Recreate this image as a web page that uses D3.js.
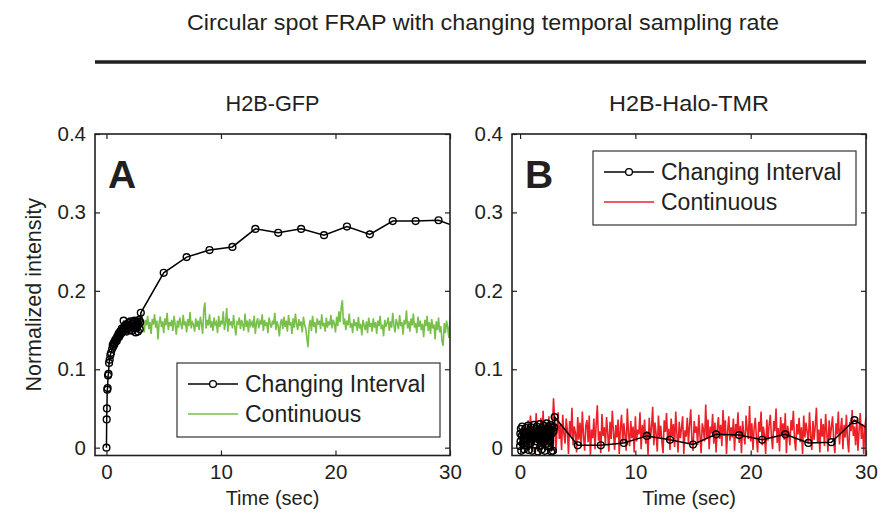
<!DOCTYPE html>
<html>
<head>
<meta charset="utf-8">
<script src="https://cdnjs.cloudflare.com/ajax/libs/d3/7.8.5/d3.min.js"></script>
<style>
  body { margin: 0; background: #fff; }
  text { font-family: "Liberation Sans", Arial, sans-serif; fill: #231f20; }
</style>
</head>
<body>
<div id="chart"></div>
<script>
// sampling times of the "changing interval" protocol (sec)
var intervalTimes = [0, 0.02, 0.04, 0.07, 0.1, 0.14, 0.18, 0.23, 0.28, 0.34, 0.4,
    0.5, 0.55, 0.6, 0.65, 0.7, 0.75, 0.8, 0.85, 0.9, 0.95,
    1.0, 1.05, 1.1, 1.15, 1.2, 1.25, 1.3, 1.35, 1.4, 1.45,
    1.5, 1.55, 1.6, 1.65, 1.7, 1.75, 1.8, 1.85, 1.9, 1.95,
    2.0, 2.05, 2.1, 2.15, 2.2, 2.25, 2.3, 2.35, 2.4, 2.45,
    2.5, 2.55, 2.6, 2.65, 2.7, 2.75, 2.8, 2.85, 2.9, 2.95, 3.0,
    5, 7, 9, 11, 13, 15, 17, 19, 21, 23, 25, 27, 29, 31];

var gfpInterval = [0, 0.036, 0.05, 0.074, 0.076, 0.092, 0.094, 0.108, 0.112, 0.118, 0.121,
    0.126, 0.131, 0.129, 0.134, 0.132, 0.137, 0.135, 0.139, 0.136, 0.142,
    0.14, 0.145, 0.141, 0.147, 0.144, 0.149, 0.146, 0.152, 0.148, 0.151,
    0.162, 0.149, 0.155, 0.15, 0.157, 0.148, 0.156, 0.152, 0.159, 0.153,
    0.157, 0.15, 0.161, 0.154, 0.158, 0.149, 0.16, 0.155, 0.152, 0.162,
    0.156, 0.147, 0.159, 0.153, 0.161, 0.148, 0.157, 0.163, 0.151, 0.16, 0.172,
    0.223, 0.243, 0.252, 0.256, 0.279, 0.274, 0.279, 0.271, 0.282, 0.272, 0.289, 0.289, 0.29, 0.279];

var haloInterval = [0.002, 0.018, 0.008, 0.024, -0.004, 0.015, 0.027, 0.005, 0.02, -0.002, 0.012,
    0.025, 0.003, 0.019, 0.009, 0.028, -0.003, 0.016, 0.022, 0.006, 0.026,
    0.011, -0.004, 0.021, 0.014, 0.029, 0.004, 0.018, 0.024, 0.008, 0.027,
    0.013, -0.005, 0.02, 0.01, 0.03, 0.002, 0.017, 0.025, -0.002, 0.023,
    0.007, 0.028, 0.015, -0.004, 0.022, 0.012, 0.031, 0.005, 0.019, 0.026,
    0.001, 0.024, 0.009, 0.029, -0.005, 0.018, 0.027, -0.004, 0.021, 0.026, 0.039,
    0.003, 0.003, 0.006, 0.015, 0.01, 0.004, 0.017, 0.016, 0.01, 0.017, 0.006, 0.007, 0.035, 0.017];

// continuous acquisition, one frame every contStep sec
var contStep = 0.1;
var gfpContStart = 2.6;
var gfpContinuous = [
    0.152, 0.161, 0.149, 0.166, 0.155, 0.171, 0.158, 0.147, 0.163, 0.156,
    0.168, 0.151, 0.16, 0.145, 0.164, 0.157, 0.17, 0.153, 0.162, 0.138,
    0.159, 0.167, 0.154, 0.161, 0.146, 0.165, 0.156, 0.172, 0.15, 0.16,
    0.155, 0.163, 0.149, 0.168, 0.157, 0.144, 0.162, 0.153, 0.166, 0.158,
    0.151, 0.169, 0.156, 0.161, 0.147, 0.164, 0.155, 0.173, 0.152, 0.16,
    0.157, 0.148, 0.165, 0.154, 0.162, 0.15, 0.167, 0.158, 0.145, 0.176,
    0.185, 0.152, 0.163, 0.156, 0.17, 0.153, 0.161, 0.149, 0.166, 0.157,
    0.16, 0.146, 0.168, 0.154, 0.162, 0.157, 0.174, 0.15, 0.159, 0.178,
    0.148, 0.165, 0.156, 0.161, 0.152, 0.169, 0.155, 0.143, 0.16, 0.158,
    0.166, 0.151, 0.163, 0.157, 0.149, 0.171, 0.154, 0.162, 0.147, 0.164,
    0.156, 0.16, 0.153, 0.168, 0.145, 0.159, 0.165, 0.152, 0.161, 0.157,
    0.17, 0.149, 0.163, 0.155, 0.16, 0.146, 0.166, 0.158, 0.153, 0.162,
    0.157, 0.172, 0.15, 0.161, 0.155, 0.142, 0.159, 0.164, 0.151, 0.167,
    0.154, 0.162, 0.148, 0.169, 0.156, 0.16, 0.145, 0.165, 0.153, 0.171,
    0.158, 0.15, 0.164, 0.155, 0.161, 0.147, 0.167, 0.157, 0.152, 0.14,
    0.128, 0.156, 0.163, 0.149, 0.168, 0.154, 0.16, 0.146, 0.165, 0.157,
    0.162, 0.151, 0.17, 0.155, 0.159, 0.148, 0.166, 0.153, 0.161, 0.156,
    0.169, 0.152, 0.163, 0.158, 0.147, 0.167, 0.155, 0.174, 0.16, 0.179,
    0.188, 0.157, 0.165, 0.15, 0.162, 0.156, 0.171, 0.153, 0.159, 0.146,
    0.164, 0.155, 0.16, 0.149, 0.167, 0.152, 0.158, 0.143, 0.163, 0.156,
    0.15, 0.161, 0.146, 0.166, 0.154, 0.159, 0.148, 0.165, 0.153, 0.16,
    0.145, 0.162, 0.155, 0.168, 0.151, 0.157, 0.142, 0.163, 0.154, 0.159,
    0.166, 0.149, 0.161, 0.153, 0.172, 0.156, 0.147, 0.164, 0.158, 0.151,
    0.169, 0.155, 0.16, 0.144, 0.163, 0.157, 0.175, 0.152, 0.161, 0.148,
    0.165, 0.156, 0.171, 0.153, 0.159, 0.146, 0.167, 0.154, 0.162, 0.15,
    0.158, 0.141, 0.163, 0.155, 0.168, 0.149, 0.16, 0.145, 0.164, 0.152,
    0.157, 0.138, 0.161, 0.15, 0.166, 0.147, 0.155, 0.136, 0.13, 0.159,
    0.146, 0.162, 0.153, 0.14, 0.165, 0.151, 0.172, 0.158, 0.167, 0.16];

var haloContStart = 0.4;
var haloContinuous = [
    0.012, 0.028, -0.004, 0.035, 0.008, 0.041, 0.019, -0.006, 0.03, 0.015,
    0.044, 0.006, 0.026, -0.008, 0.038, 0.017, 0.047, 0.002, 0.033, 0.021,
    -0.005, 0.04, 0.013, 0.031, 0.022, 0.063, 0.036, -0.007, 0.024, 0.045,
    0.011, 0.029, -0.003, 0.042, 0.018, 0.005, 0.037, 0.022, -0.008, 0.034,
    0.014, 0.051, 0.003, 0.027, 0.019, -0.006, 0.039, 0.01, 0.032, 0.001,
    0.046, 0.016, -0.004, 0.028, 0.035, 0.007, 0.041, -0.009, 0.023, 0.012,
    0.037, -0.002, 0.03, 0.054, 0.009, 0.021, -0.007, 0.043, 0.015, 0.026,
    0.004, 0.039, 0.018, -0.005, 0.033, 0.011, 0.047, 0.02, -0.003, 0.029,
    0.013, 0.036, -0.008, 0.025, 0.042, 0.006, 0.031, 0.016, -0.004, 0.05,
    0.019, 0.002, 0.034, 0.012, 0.027, -0.006, 0.04, 0.008, 0.023, 0.017,
    0.045, -0.002, 0.029, 0.014, 0.036, 0.005, 0.021, -0.009, 0.038, 0.011,
    0.026, 0.052, 0.003, 0.032, 0.017, -0.005, 0.041, 0.013, 0.028, 0.007,
    -0.007, 0.035, 0.02, 0.044, 0.009, 0.024, -0.003, 0.037, 0.015, 0.03,
    0.001, 0.046, 0.018, -0.006, 0.033, 0.012, 0.025, 0.04, -0.008, 0.022,
    0.014, 0.038, 0.006, 0.029, 0.049, 0.01, -0.004, 0.034, 0.019, 0.027,
    0.003, 0.042, 0.016, -0.007, 0.031, 0.023, 0.008, 0.055, 0.012, 0.036,
    -0.002, 0.027, 0.018, 0.043, 0.005, 0.032, -0.006, 0.024, 0.039, 0.011,
    0.029, 0.002, 0.048, 0.015, 0.035, -0.008, 0.021, 0.04, 0.009, 0.026,
    0.013, 0.037, -0.004, 0.03, 0.019, 0.045, 0.006, 0.028, -0.007, 0.034,
    0.017, 0.004, 0.041, 0.022, 0.011, 0.053, 0.008, 0.031, -0.003, 0.025,
    0.038, 0.012, -0.006, 0.033, 0.02, 0.046, 0.003, 0.027, 0.015, -0.008,
    0.036, 0.009, 0.029, 0.042, 0.014, -0.002, 0.034, 0.021, 0.05, 0.006,
    0.025, -0.005, 0.039, 0.016, 0.031, 0.01, 0.044, -0.007, 0.028, 0.018,
    0.003, 0.035, 0.022, 0.047, 0.011, -0.004, 0.03, 0.017, 0.038, 0.007,
    0.026, -0.008, 0.041, 0.013, 0.032, 0.02, 0.005, 0.045, 0.016, -0.003,
    0.034, 0.01, 0.028, 0.051, 0.007, 0.023, -0.006, 0.037, 0.014, 0.03,
    0.002, 0.043, 0.019, -0.005, 0.035, 0.012, 0.026, 0.04, 0.008, -0.007,
    0.031, 0.017, 0.046, 0.004, 0.024, 0.038, -0.002, 0.029, 0.013, 0.042,
    0.009, -0.006, 0.033, 0.021, 0.048, 0.015, 0.027, 0.003, 0.036, -0.004,
    0.022, 0.044, 0.011, 0.03, -0.008, 0.025, 0.039, 0.016, 0.032, 0.02];

var xTicks = [0, 10, 20, 30];
var yTicks = [0, 0.1, 0.2, 0.3, 0.4];
var legendLabels = ["Changing Interval", "Continuous"];

var ink = "#231f20";
var top_ = 134, bottom = 455.5;

var svg = d3.select("#chart").append("svg")
    .attr("width", 880)
    .attr("height", 516);

// title and rule
svg.append("text")
    .attr("x", 483).attr("y", 30)
    .attr("text-anchor", "middle")
    .attr("font-size", 22)
    .attr("textLength", 592).attr("lengthAdjust", "spacingAndGlyphs")
    .text("Circular spot FRAP with changing temporal sampling rate");

svg.append("line")
    .attr("x1", 95).attr("x2", 866)
    .attr("y1", 62).attr("y2", 62)
    .attr("stroke", ink).attr("stroke-width", 3.5);

function drawPanel(p) {
    var x = d3.scaleLinear().domain(p.xlim).range([p.left, p.right]);
    var y = d3.scaleLinear().domain([-0.01, 0.4]).range([bottom, top_]);
    var g = svg.append("g");

    g.append("text")
        .attr("x", (p.left + p.right) / 2).attr("y", 111)
        .attr("text-anchor", "middle")
        .attr("font-size", 22)
        .attr("textLength", p.subWidth).attr("lengthAdjust", "spacingAndGlyphs")
        .text(p.subtitle);

    g.append("clipPath").attr("id", p.id + "-clip")
        .append("rect")
        .attr("x", p.left).attr("y", top_)
        .attr("width", p.right - p.left).attr("height", bottom - top_);

    var plot = g.append("g").attr("clip-path", "url(#" + p.id + "-clip)");

    var line = d3.line()
        .x(function (d) { return x(d[0]); })
        .y(function (d) { return y(d[1]); });

    var cont = p.contValues.map(function (v, i) {
        return [p.contStart + i * contStep, v];
    });
    plot.append("path")
        .datum(cont)
        .attr("d", line)
        .attr("fill", "none")
        .attr("stroke", p.colour)
        .attr("stroke-width", 1.6);

    var inter = intervalTimes.map(function (t, i) { return [t, p.interval[i]]; });
    plot.append("path")
        .datum(inter)
        .attr("d", line)
        .attr("fill", "none")
        .attr("stroke", "#000")
        .attr("stroke-width", 1.5);

    plot.selectAll("circle")
        .data(inter)
        .enter()
        .append("circle")
        .attr("cx", function (d) { return x(d[0]); })
        .attr("cy", function (d) { return y(d[1]); })
        .attr("r", 3.4)
        .attr("fill", "none")
        .attr("stroke", "#000")
        .attr("stroke-width", 1.4);

    // axes, ticks pointing inward on all four sides
    var axes = [
        [d3.axisBottom(x).tickValues(xTicks), "translate(0," + bottom + ")", true],
        [d3.axisTop(x).tickValues(xTicks), "translate(0," + top_ + ")", false],
        [d3.axisLeft(y).tickValues(yTicks), "translate(" + p.left + ",0)", true],
        [d3.axisRight(y).tickValues(yTicks), "translate(" + p.right + ",0)", false]
    ];
    axes.forEach(function (a) {
        var ax = a[0].tickSizeInner(-5).tickSizeOuter(0).tickPadding(9);
        if (!a[2]) ax.tickFormat("");
        else ax.tickFormat(function (d) { return String(d); });
        var ag = g.append("g").attr("transform", a[1]).call(ax);
        ag.select(".domain").remove();
        ag.attr("font-size", 20.5)
            .attr("font-family", "Liberation Sans, Arial, sans-serif")
            .attr("color", ink);
        ag.selectAll(".tick line").attr("stroke-width", 1.2);
    });

    g.append("rect")
        .attr("x", p.left).attr("y", top_)
        .attr("width", p.right - p.left).attr("height", bottom - top_)
        .attr("fill", "none")
        .attr("stroke", ink)
        .attr("stroke-width", 1.6);

    g.append("text")
        .attr("x", (p.left + p.right) / 2).attr("y", 505)
        .attr("text-anchor", "middle")
        .attr("font-size", 20)
        .text("Time (sec)");

    g.append("text")
        .attr("x", p.left + 13).attr("y", 188)
        .attr("font-size", 39)
        .attr("font-weight", "bold")
        .text(p.letter);

    // legend
    var lg = g.append("g").attr("transform", "translate(" + p.legend[0] + "," + p.legend[1] + ")");
    lg.append("rect")
        .attr("width", 263).attr("height", 74)
        .attr("fill", "#fff")
        .attr("stroke", "#333")
        .attr("stroke-width", 1.2);
    lg.append("line").attr("x1", 11).attr("x2", 61).attr("y1", 21).attr("y2", 21)
        .attr("stroke", "#000").attr("stroke-width", 1.5);
    lg.append("circle").attr("cx", 36).attr("cy", 21).attr("r", 3.4)
        .attr("fill", "#fff").attr("stroke", "#000").attr("stroke-width", 1.3);
    lg.append("line").attr("x1", 11).attr("x2", 61).attr("y1", 51).attr("y2", 51)
        .attr("stroke", p.colour).attr("stroke-width", 1.5);
    lg.selectAll("text.lab")
        .data(legendLabels)
        .enter()
        .append("text")
        .attr("class", "lab")
        .attr("x", 68)
        .attr("y", function (d, i) { return 29 + i * 30; })
        .attr("font-size", 23)
        .text(function (d) { return d; });
}

drawPanel({
    id: "a", letter: "A", subtitle: "H2B-GFP", subWidth: 94,
    left: 95, right: 450, xlim: [-1, 30],
    interval: gfpInterval, contValues: gfpContinuous, contStart: gfpContStart,
    colour: "#77c14a", legend: [177, 363]
});

drawPanel({
    id: "b", letter: "B", subtitle: "H2B-Halo-TMR", subWidth: 160,
    left: 512, right: 866, xlim: [-0.7, 30],
    interval: haloInterval, contValues: haloContinuous, contStart: haloContStart,
    colour: "#ec2127", legend: [593, 151]
});

svg.append("text")
    .attr("transform", "translate(41," + ((top_ + bottom) / 2) + ") rotate(-90)")
    .attr("text-anchor", "middle")
    .attr("font-size", 21.5)
    .text("Normalized intensity");
</script>
</body>
</html>
